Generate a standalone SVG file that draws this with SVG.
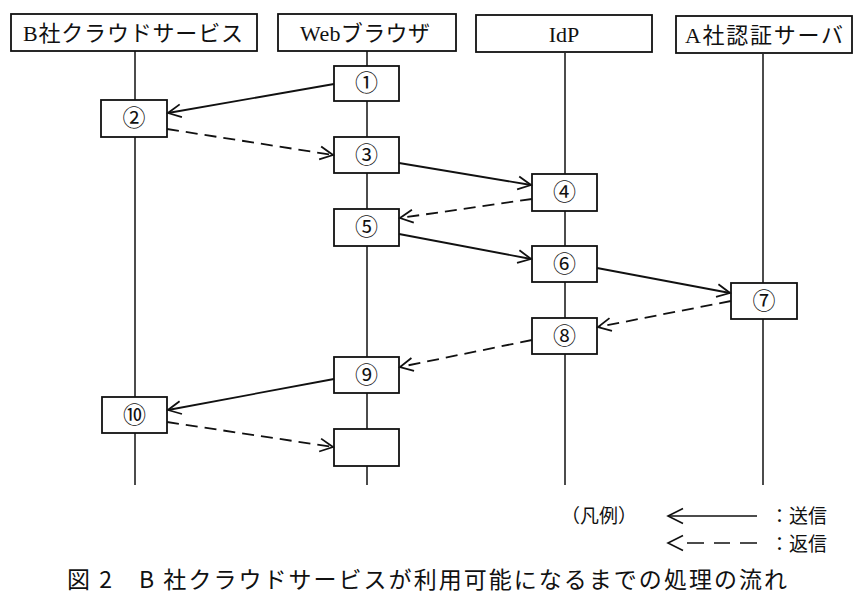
<svg xmlns="http://www.w3.org/2000/svg" width="865" height="608" viewBox="0 0 865 608">
<style>
.box{fill:#fff;stroke:#111;stroke-width:1.8}
.life{stroke:#111;stroke-width:1.5;fill:none}
.msg{stroke:#111;stroke-width:1.8;fill:none;marker-end:url(#ah)}
.ret{stroke:#111;stroke-width:1.8;fill:none;stroke-dasharray:12 7;marker-end:url(#ah)}
.hd{font-family:"Liberation Serif","Noto Sans CJK JP",serif;font-size:22px;fill:#111}
.num{font-family:"Noto Sans CJK JP",sans-serif;font-size:23px;fill:#111;text-anchor:middle}
.lg{font-family:"Noto Sans CJK JP",sans-serif;font-size:19px;fill:#111}
.cap{font-family:"Noto Sans CJK JP",sans-serif;font-size:23px;fill:#111}
</style>
<defs>
<marker id="ah" viewBox="-14 -8 16 16" refX="0" refY="0" markerWidth="16" markerHeight="16" markerUnits="userSpaceOnUse" orient="auto">
<path d="M-13,-6.5 L0,0 L-13,6.5" fill="none" stroke="#111" stroke-width="1.8"/>
</marker>
</defs>
<rect width="865" height="608" fill="#fff"/>
<g id="lifelines">
<line class="life" x1="135" y1="51" x2="135" y2="485"/>
<line class="life" x1="367" y1="51" x2="367" y2="485"/>
<line class="life" x1="565" y1="53" x2="565" y2="485"/>
<line class="life" x1="763" y1="54" x2="763" y2="485"/>
</g>
<g id="h-b"><rect class="box" x="11" y="14" width="246" height="37"/><text class="hd" x="23" y="41" textLength="220" lengthAdjust="spacing">B社クラウドサービス</text></g>
<g id="h-web"><rect class="box" x="278" y="14" width="178" height="37"/><text class="hd" x="300" y="41" textLength="130" lengthAdjust="spacing">Webブラウザ</text></g>
<g id="h-idp"><rect class="box" x="476" y="15" width="176" height="37"/><text class="hd" x="564" y="42" text-anchor="middle">IdP</text></g>
<g id="h-a"><rect class="box" x="676" y="16" width="176" height="37"/><text class="hd" x="685" y="43" textLength="158" lengthAdjust="spacing">A社認証サーバ</text></g>
<g id="n1"><rect class="box" x="334" y="66" width="65" height="35"/><text class="num" x="366.5" y="91">①</text></g>
<g id="n2"><rect class="box" x="101" y="100" width="66" height="37"/><text class="num" x="134" y="126">②</text></g>
<g id="n3"><rect class="box" x="334" y="137" width="65" height="36"/><text class="num" x="366.5" y="163">③</text></g>
<g id="n4"><rect class="box" x="532" y="174" width="65" height="37"/><text class="num" x="564.5" y="200">④</text></g>
<g id="n5"><rect class="box" x="334" y="209" width="65" height="37"/><text class="num" x="366.5" y="235">⑤</text></g>
<g id="n6"><rect class="box" x="532" y="246" width="65" height="36"/><text class="num" x="564.5" y="272">⑥</text></g>
<g id="n7"><rect class="box" x="731" y="283" width="66" height="36"/><text class="num" x="764" y="309">⑦</text></g>
<g id="n8"><rect class="box" x="532" y="318" width="65" height="36"/><text class="num" x="564.5" y="344">⑧</text></g>
<g id="n9"><rect class="box" x="334" y="357" width="65" height="36"/><text class="num" x="366.5" y="383">⑨</text></g>
<g id="n10"><rect class="box" x="102" y="397" width="65" height="36"/><text class="num" x="134.5" y="423">⑩</text></g>
<g id="n11"><rect class="box" x="334" y="429" width="65" height="37"/></g>
<g id="connectors">
<line class="msg" x1="334" y1="84" x2="168" y2="113"/>
<line class="ret" x1="167" y1="129" x2="333" y2="155"/>
<line class="msg" x1="399" y1="163" x2="531" y2="185"/>
<line class="ret" x1="532" y1="199" x2="400" y2="218"/>
<line class="msg" x1="399" y1="234" x2="531" y2="259"/>
<line class="msg" x1="597" y1="268" x2="730" y2="293"/>
<line class="ret" x1="731" y1="301" x2="598" y2="327"/>
<line class="ret" x1="532" y1="340" x2="400" y2="367"/>
<line class="msg" x1="334" y1="379" x2="168" y2="410"/>
<line class="ret" x1="167" y1="422" x2="333" y2="447"/>
</g>
<g id="legend">
<text class="lg" x="561" y="523">（凡例）</text>
<path d="M683,508.5 L668,516 L683,523.5" fill="none" stroke="#111" stroke-width="1.6"/>
<line x1="668" y1="516" x2="757" y2="516" stroke="#111" stroke-width="1.6"/>
<text class="lg" x="770" y="523">：送信</text>
<path d="M683,535.5 L668,543 L683,550.5" fill="none" stroke="#111" stroke-width="1.6"/>
<line x1="668" y1="543" x2="757" y2="543" stroke="#111" stroke-width="1.6" stroke-dasharray="0 19 17 10 16 10 16"/>
<text class="lg" x="770" y="551">：返信</text>
</g>
<text class="cap" x="67" y="588" textLength="720" lengthAdjust="spacing">図 2　B 社クラウドサービスが利用可能になるまでの処理の流れ</text>
</svg>
